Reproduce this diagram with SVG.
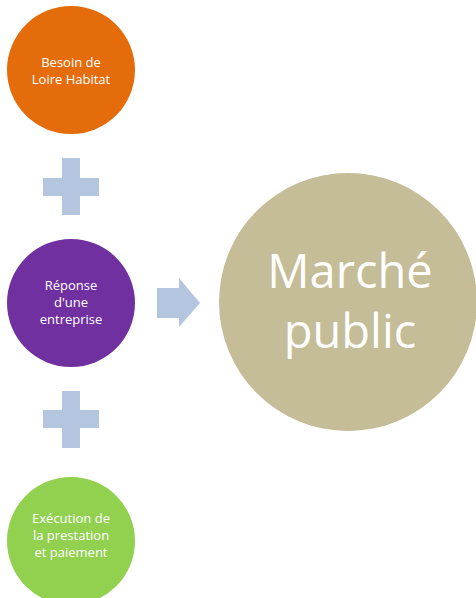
<svg xmlns="http://www.w3.org/2000/svg" width="476" height="598" viewBox="0 0 476 598">
<style>
.t{font-family:"Open Sans","Liberation Sans",sans-serif;fill:#fff;text-anchor:middle}
.s{font-size:13px}
.b{font-size:47px}
.sym{fill:#B4C5DF}
</style>
<rect width="476" height="598" fill="#fff"/>
<g id="node-besoin">
<circle cx="71" cy="70" r="64" fill="#E46C0A"/>
<text class="t s" x="71" y="67">Besoin de</text>
<text class="t s" x="71" y="84">Loire Habitat</text>
</g>
<g id="connectors">
<path class="sym" d="M62 158H80V178H99V196H80V215H62V196H43V178H62Z"/>
<path class="sym" d="M62 391H80V410H99V428H80V448H62V428H43V410H62Z"/>
<path class="sym" d="M157 288H179V278L200 303L179 327V318H157Z"/>
</g>
<g id="node-reponse">
<circle cx="71" cy="303" r="64" fill="#7030A0"/>
<text class="t s" x="71" y="290">Réponse</text>
<text class="t s" x="71" y="307">d'une</text>
<text class="t s" x="71" y="324">entreprise</text>
</g>
<g id="node-execution">
<circle cx="71" cy="541" r="64" fill="#92D050"/>
<text class="t s" x="71" y="523">Exécution de</text>
<text class="t s" x="71" y="540">la prestation</text>
<text class="t s" x="71" y="557">et paiement</text>
</g>
<g id="node-marche">
<circle cx="348" cy="302" r="129" fill="#C4BD97"/>
<text class="t b" x="350" y="288">Marché</text>
<text class="t b" x="350" y="348">public</text>
</g>
</svg>
